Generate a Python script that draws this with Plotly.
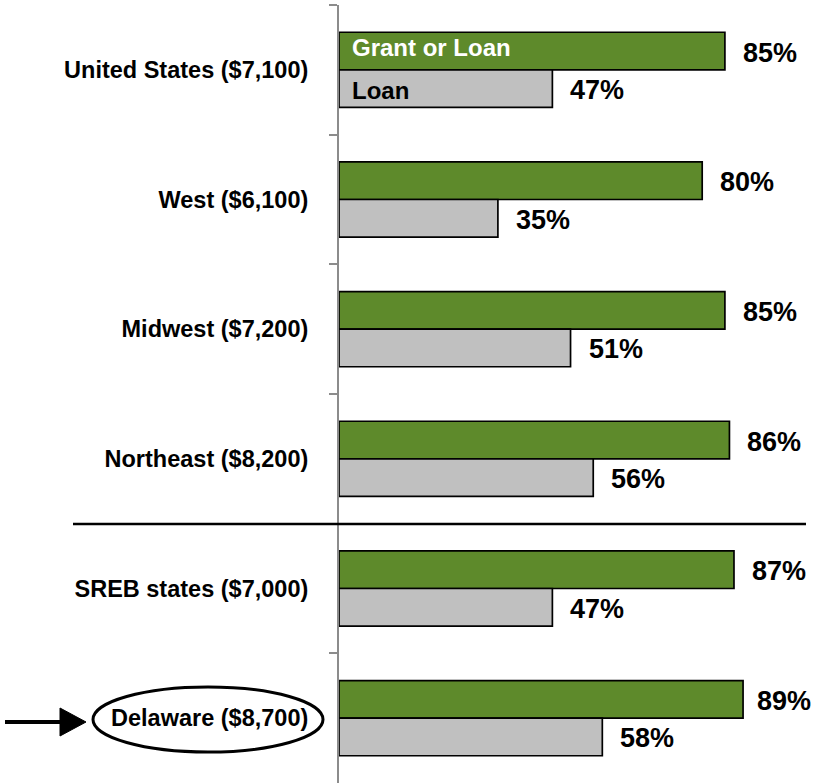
import plotly.graph_objects as go

# ---- data ----
categories = ["United States ($7,100)", "West ($6,100)", "Midwest ($7,200)",
              "Northeast ($8,200)", "SREB states ($7,000)", "Delaware ($8,700)"]
grant_or_loan = [85, 80, 85, 86, 87, 89]
loan = [47, 35, 51, 56, 47, 58]
series_names = ["Grant or Loan", "Loan"]

# ---- layout constants ----
W, H = 814, 783
ML, MR, MT, MB = 339, 21, 5, 0
PW = W - ML - MR
PH = H - MT - MB
BARGAP = 0.42
band = PH / len(categories)
bar_px = band * (1 - BARGAP) / 2

GREEN = "#5E8A2B"
GRAY = "#C0C0C0"
SANS = "Liberation Sans"

fig = go.Figure()
fig.add_trace(go.Bar(y=categories, x=grant_or_loan, orientation="h", name=series_names[0],
                     marker=dict(color=GREEN, line=dict(color="black", width=1.7))))
fig.add_trace(go.Bar(y=categories, x=loan, orientation="h", name=series_names[1],
                     marker=dict(color=GRAY, line=dict(color="black", width=1.7))))


def px2paper_x(px):
    return (px - ML) / PW


def px2paper_y(py):
    return (H - MB - py) / PH


annotations = []
label_w = 56
for cat, g, l in zip(categories, grant_or_loan, loan):
    for v, sgn in ((g, 1), (l, -1)):
        end_px = ML + v / 100 * PW
        shift = min(16, 811 - label_w - end_px)
        annotations.append(dict(x=v, y=cat, xref="x", yref="y", text=f"{v}%",
                                showarrow=False, xanchor="left", yanchor="middle",
                                xshift=shift, yshift=sgn * bar_px / 2 - 1.5,
                                font=dict(family=SANS, size=27, color="black", weight="bold")))

# in-bar legend labels
annotations.append(dict(x=0, y=categories[0], xref="x", yref="y", text=series_names[0],
                        showarrow=False, xanchor="left", yanchor="middle",
                        xshift=11, yshift=bar_px / 2 + 4,
                        font=dict(family=SANS, size=24, color="white", weight="bold")))
annotations.append(dict(x=0, y=categories[0], xref="x", yref="y", text=series_names[1],
                        showarrow=False, xanchor="left", yanchor="middle",
                        xshift=11, yshift=-bar_px / 2 - 2,
                        font=dict(family=SANS, size=24, color="black", weight="bold")))

shapes = [
    # separator between regions and states
    dict(type="line", xref="paper", yref="paper",
         x0=px2paper_x(73), x1=px2paper_x(806), y0=px2paper_y(524), y1=px2paper_y(524),
         line=dict(color="black", width=2.5)),
    # ellipse around Delaware
    dict(type="circle", xref="paper", yref="paper",
         x0=px2paper_x(93), x1=px2paper_x(323), y0=px2paper_y(752), y1=px2paper_y(687),
         line=dict(color="black", width=3)),
    # arrow shaft
    dict(type="line", xref="paper", yref="paper",
         x0=px2paper_x(5), x1=px2paper_x(64), y0=px2paper_y(722), y1=px2paper_y(722),
         line=dict(color="black", width=4)),
    # arrow head
    dict(type="path", xref="paper", yref="paper",
         path=(f"M {px2paper_x(60)} {px2paper_y(708)} L {px2paper_x(86)} {px2paper_y(722)} "
               f"L {px2paper_x(60)} {px2paper_y(736)} Z"),
         fillcolor="black", line=dict(color="black", width=1)),
]

fig.update_layout(
    width=W, height=H,
    margin=dict(l=ML, r=MR, t=MT, b=MB, pad=0, autoexpand=False),
    paper_bgcolor="white", plot_bgcolor="white",
    barmode="group", bargap=BARGAP, bargroupgap=0,
    showlegend=False,
    annotations=annotations,
    shapes=shapes,
    xaxis=dict(range=[0, 100], visible=False, fixedrange=True, automargin=False),
    yaxis=dict(type="category", autorange="reversed", showline=True, automargin=False,
               linecolor="#8C8C8C", linewidth=2, ticks="outside", ticklen=8,
               tickcolor="#8C8C8C", tickwidth=2, tickson="boundaries",
               showgrid=False, zeroline=False, ticklabelstandoff=24,
               tickfont=dict(family=SANS, size=23.5, color="black", weight="bold")),
)

fig.write_html("out.html", config={"displayModeBar": False},
               post_script="document.body.style.margin='0';document.body.style.overflow='hidden';")
